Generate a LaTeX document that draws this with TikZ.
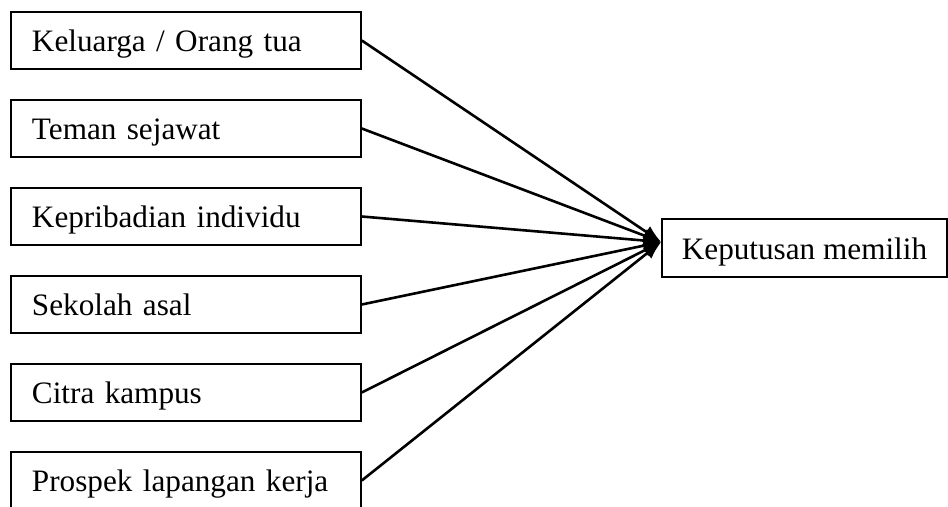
\documentclass[tikz,border=0pt]{standalone}
\usepackage{fontspec}
\setmainfont{Liberation Serif}
\usetikzlibrary{arrows.meta}

\begin{document}
\begin{tikzpicture}
  [x=0.5pt,y=-0.5pt,every node/.style={draw,rectangle,line width=0.8pt,text height=13pt,text depth=1.5pt,font=\fontsize{15.6}{19}\selectfont},
   faktor/.style={minimum height=28.5pt,text width=154pt,inner xsep=10.5pt,align=left}]
  \useasboundingbox (0,0) rectangle (948,507);
  \node[faktor] (f1) at (186,40.5) {Keluarga / Orang tua};
  \node[faktor] (f2) at (186,128.5) {Teman sejawat};
  \node[faktor] (f3) at (186,216.5) {Kepribadian individu};
  \node[faktor] (f4) at (186,304.5) {Sekolah asal};
  \node[faktor] (f5) at (186,392.5) {Citra kampus};
  \node[faktor] (f6) at (186,480.5) {Prospek lapangan kerja};
  \node[minimum width=142.5pt,minimum height=29pt] (kp) at (804.5,248) {Keputusan memilih};

  \foreach \from in {f1,f2,f3,f4,f5,f6}
    \draw[line width=1.3pt,-{Latex[length=9pt,width=7pt]}] (\from.east) -- ([yshift=3pt]kp.west);

\end{tikzpicture}
\end{document}
